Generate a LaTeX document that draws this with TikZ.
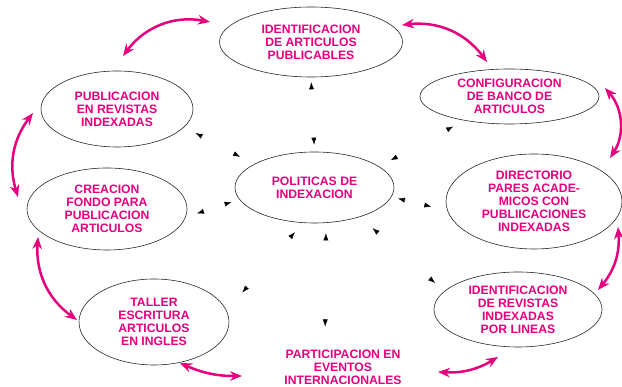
\documentclass[tikz,border=0pt]{standalone}
\usepackage{fontspec}
\setmainfont{Liberation Sans}
\usetikzlibrary{arrows.meta,shapes.geometric,decorations.markings}
\definecolor{magentaA}{RGB}{230,0,126}
\begin{document}
\begin{tikzpicture}[x=1pt,y=1pt,>={Stealth[length=12pt,width=9.5pt]},line join=round,
  font=\fontsize{12.2}{13}\selectfont\bfseries,
  ell/.style={draw=black!85,line width=0.6pt,ellipse,inner sep=0pt,align=center,text=magentaA},
  lnk/.style={<->,draw=magentaA,line width=2.5pt},
  tips/.style 2 args={decoration={markings,
      mark=at position #1 with {\arrowreversed{Latex[length=7pt,width=5pt]}},
      mark=at position -#2 with {\arrow{Latex[length=7pt,width=5pt]}}},postaction=decorate}]
\useasboundingbox (0,0) rectangle (622,387);
\node[ell,minimum width=183pt,minimum height=70pt] (ident) at (311,345) {IDENTIFICACION\\DE ARTICULOS\\PUBLICABLES};
\node[ell,minimum width=179pt,minimum height=55pt] (config) at (509.5,290.5) {CONFIGURACION\\DE BANCO DE\\ARTICULOS};
\node[ell,minimum width=152pt,minimum height=76pt] (pub) at (117,278) {PUBLICACION\\EN REVISTAS\\INDEXADAS};
\node[ell,minimum width=159pt,minimum height=71pt] (pol) at (314.5,199.5) {POLITICAS DE\\INDEXACION};
\node[ell,minimum width=160pt,minimum height=82pt] (crea) at (107,178) {CREACION\\FONDO PARA\\PUBLICACION\\ARTICULOS};
\node[ell,minimum width=176pt,minimum height=95pt] (dir) at (534,185.5) {DIRECTORIO\\PARES ACADE-\\MICOS CON\\PUBLIICACIONES\\INDEXADAS};
\node[ell,minimum width=168pt,minimum height=75pt] (rev) at (518,77.5) {IDENTIFICACION\\DE REVISTAS\\INDEXADAS\\POR LINEAS};
\node[ell,minimum width=150pt,minimum height=86pt] (taller) at (154,65) {TALLER\\ESCRITURA\\ARTICULOS\\EN INGLES};
\node[align=center,text=magentaA,inner sep=2pt] (part) at (343,20) {PARTICIPACION EN\\EVENTOS\\INTERNACIONALES};
% ciclo exterior
\draw[lnk] ([shift={(6,53)}]pub.center) to[bend left=32] ([shift={(-101,20)}]ident.center);
\draw[lnk] ([shift={(91,17)}]ident.center) to[bend left=30] ([shift={(-22.5,34.5)}]config.center);
\draw[lnk] ([shift={(95.5,8.5)}]config.center) to[bend left=37] ([shift={(76,43.5)}]dir.center);
\draw[lnk] ([shift={(84,-25.5)}]dir.center) to[bend left=22] ([shift={(80,19.5)}]rev.center);
\draw[lnk] ([shift={(-20,-47.5)}]rev.center) to[bend left=17] ([shift={(95,-5)}]part.center);
\draw[lnk] ([shift={(-101,-9)}]part.center) to[bend left=12] ([shift={(26,-41)}]taller.center);
\draw[lnk] ([shift={(-77,2)}]taller.center) to[bend left=29] ([shift={(-69,-28)}]crea.center);
\draw[lnk] ([shift={(-89,12)}]crea.center) to[bend left=27] ([shift={(-84,-4)}]pub.center);
% puntas hacia el centro
\path[tips={7pt}{5pt}] (pol.90) -- (ident.270);
\path[tips={15.6pt}{12.7pt}] (pol.159) -- (pub.345);
\path[tips={13.2pt}{12.5pt}] (pol.18) -- (config.208);
\path[tips={6.7pt}{16.5pt}] (pol.353) -- (dir.186);
\path[tips={17pt}{12.1pt}] (pol.327) -- (rev.166);
\path[tips={10.4pt}{21pt}] (pol.288) -- ([xshift=-18pt]part.north);
\path[tips={12.3pt}{23.8pt}] (pol.252) -- (taller.9);
\path[tips={8.1pt}{11.9pt}] (pol.189) -- (crea.354);
\end{tikzpicture}
\end{document}
